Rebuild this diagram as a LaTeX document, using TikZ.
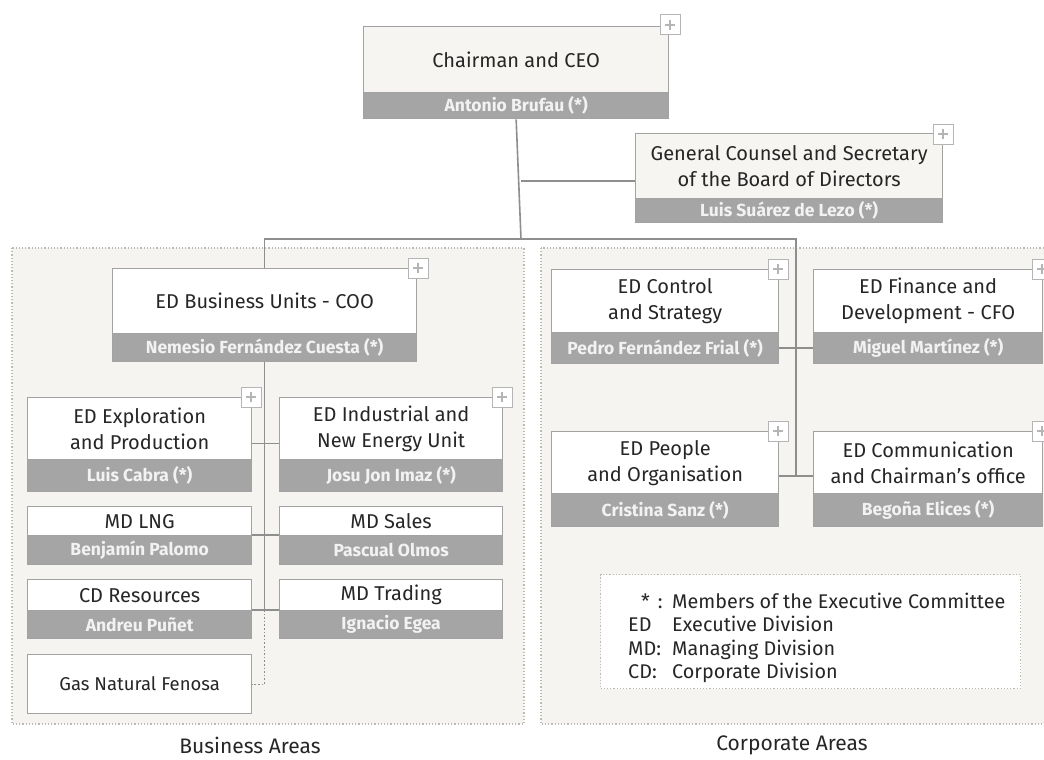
\documentclass[tikz,border=0pt]{standalone}
\usepackage{fontspec}
\setmainfont{Fira Sans}
\usetikzlibrary{calc}
\definecolor{boxline}{HTML}{A2A2A2}
\definecolor{strip}{HTML}{A5A5A5}
\definecolor{connc}{HTML}{8E8E8E}
\definecolor{areafill}{HTML}{F6F4F1}
\definecolor{areadot}{HTML}{BDBAB5}
\definecolor{beige}{HTML}{F7F5F1}
\definecolor{txt}{HTML}{262626}
\definecolor{nametxt}{HTML}{F2F2F2}
\definecolor{plusline}{HTML}{B5B5B5}
\newcommand\titlefont{\fontsize{20}{26}\selectfont}
\newcommand\namefont{\fontsize{17.5}{20}\selectfont\bfseries}
\begin{document}
\begin{tikzpicture}[x=1pt,y=-1pt,
  titlebox/.style={draw=boxline, line width=1.3pt, fill=white, inner sep=0pt, align=center, font=\titlefont, text=txt, anchor=north west},
  namebox/.style={draw=boxline, line width=1.3pt, fill=strip, inner sep=0pt, font=\namefont, text=nametxt, anchor=north west},
  plusbtn/.style={draw=plusline, fill=white, minimum size=20pt, inner sep=0pt, line width=1pt,
    path picture={\draw[plusline, line width=1.2pt] ([xshift=-5pt]path picture bounding box.center) -- ([xshift=5pt]path picture bounding box.center) ([yshift=-5pt]path picture bounding box.center) -- ([yshift=5pt]path picture bounding box.center);}},
  conn/.style={draw=connc, line width=1.6pt},
  area/.style={fill=areafill, draw=areadot, dotted, line width=1.2pt},
  legendbox/.style={fill=white, draw=areadot, dotted, line width=1.2pt, inner sep=0pt, anchor=north west},
  arealabel/.style={font=\fontsize{21}{23}\selectfont, text=txt, inner sep=1pt}
]
\useasboundingbox (0,0) rectangle (1044,760);
\clip (0,0) rectangle (1044,760);
\fill[white] (0,0) rectangle (1044,760);

% areas
\draw[area] (12,248) rectangle (524,724);
\draw[area] (541,248) rectangle (1070,724);

% Chairman
\node[titlebox, fill=beige, minimum width=305, minimum height=66] (ceo) at (363,26) {Chairman and CEO};
\node[namebox, minimum width=305, minimum height=26] (ceon) at (363,92) {Antonio Brufau (*)};

% General Counsel
\node[titlebox, fill=beige, minimum width=307, minimum height=65] (gc) at (635,133) {General Counsel and Secretary\\of the Board of Directors};
\node[namebox, minimum width=307, minimum height=24] (gcn) at (635,198) {Luis Suárez de Lezo (*)};

% Business units
\node[titlebox, minimum width=304, minimum height=65] (bu) at (112,268) {ED Business Units - COO};
\node[namebox, minimum width=304, minimum height=28] (bun) at (112,333) {Nemesio Fernández Cuesta (*)};

% left column
\node[titlebox, minimum width=224, minimum height=62] (expl) at (27,397) {ED Exploration\\and Production};
\node[namebox, minimum width=224, minimum height=32] (expln) at (27,459) {Luis Cabra (*)};
\node[titlebox, minimum width=224, minimum height=29] (lng) at (27,506) {MD LNG};
\node[namebox, minimum width=224, minimum height=29] (lngn) at (27,535) {Benjamín Palomo};
\node[titlebox, minimum width=224, minimum height=31] (cr) at (27,579) {CD Resources};
\node[namebox, minimum width=224, minimum height=28] (crn) at (27,610) {Andreu Puñet};
\node[titlebox, minimum width=224, minimum height=59, font=\fontsize{18.5}{20}\selectfont] (gnf) at (27,654) {Gas Natural Fenosa};

% right column
\node[titlebox, minimum width=223, minimum height=62] (ind) at (279,397) {ED Industrial and\\New Energy Unit};
\node[namebox, minimum width=223, minimum height=32] (indn) at (279,459) {Josu Jon Imaz (*)};
\node[titlebox, minimum width=223, minimum height=29] (sales) at (279,506) {MD Sales};
\node[namebox, minimum width=223, minimum height=29] (salesn) at (279,535) {Pascual Olmos};
\node[titlebox, minimum width=223, minimum height=31] (trad) at (279,579) {MD Trading};
\node[namebox, minimum width=223, minimum height=28] (tradn) at (279,610) {Ignacio Egea};

% corporate
\node[titlebox, minimum width=227, minimum height=63] (ctrl) at (551,269) {ED Control\\and Strategy};
\node[namebox, minimum width=227, minimum height=31] (ctrln) at (551,332) {Pedro Fernández Frial (*)};
\node[titlebox, minimum width=229, minimum height=63] (fin) at (813,269) {ED Finance and\\Development - CFO};
\node[namebox, minimum width=229, minimum height=31] (finn) at (813,332) {Miguel Martínez (*)};
\node[titlebox, minimum width=227, minimum height=62] (ppl) at (551,431) {ED People\\and Organisation};
\node[namebox, minimum width=227, minimum height=33] (ppln) at (551,493) {Cristina Sanz (*)};
\node[titlebox, minimum width=229, minimum height=62] (com) at (813,431) {ED Communication\\and Chairman's office};
\node[namebox, minimum width=229, minimum height=33] (comn) at (813,493) {Begoña Elices (*)};

% legend
\node[legendbox, minimum width=420, minimum height=114] (legend) at (600,574) {};
\node[anchor=west, inner sep=0pt, align=left, text=txt, font=\fontsize{19.8}{23.5}\selectfont] (legendtext) at (628,638)
 {\makebox[44pt][l]{\hspace{13pt}*\hspace{8pt}:}Members of the Executive Committee\\
  \makebox[44pt][l]{ED}Executive Division\\
  \makebox[44pt][l]{MD:}Managing Division\\
  \makebox[44pt][l]{CD:}Corporate Division};

% area labels
\node[arealabel] (buslabel) at (250,745) {Business Areas};
\node[arealabel] (corplabel) at (792,745) {Corporate Areas};

% connectors
\coordinate (bar) at (521,239);
\coordinate (barR) at (796,239);
\coordinate (corpJ) at (796,476);
\coordinate (gcj) at (521,181);
\draw[conn] (ceon.south) -- (bar);
\draw[conn] (gcj) -- (gcj -| gc.west);
\draw[conn] (bu.north) |- (barR) -- (corpJ);
\draw[conn] (ctrln.east) -- (finn.west);
\draw[conn] (ppl.east |- corpJ) -- (com.west |- corpJ);
\draw[conn] (bun.south) -- (bun.south |- crn.north);
\draw[conn] ([yshift=17pt]expl.south east) -- ([yshift=17pt]ind.south west);
\draw[conn] (lngn.north east) -- (salesn.north west);
\draw[conn] (crn.north east) -- (tradn.north west);
\draw[conn, dotted, line width=1.3pt] (bun.south |- crn.north) |- (gnf.east);

% plus buttons
\node[plusbtn] (ceop) at (670,25) {};
\node[plusbtn] (gcp) at (943,134) {};
\node[plusbtn] (bup) at (418,268) {};
\node[plusbtn] (explp) at (251,397) {};
\node[plusbtn] (indp) at (502,397) {};
\node[plusbtn] (ctrlp) at (778,269) {};
\node[plusbtn] (finp) at (1042,269) {};
\node[plusbtn] (pplp) at (778,431) {};
\node[plusbtn] (comp) at (1042,431) {};
\end{tikzpicture}
\end{document}
